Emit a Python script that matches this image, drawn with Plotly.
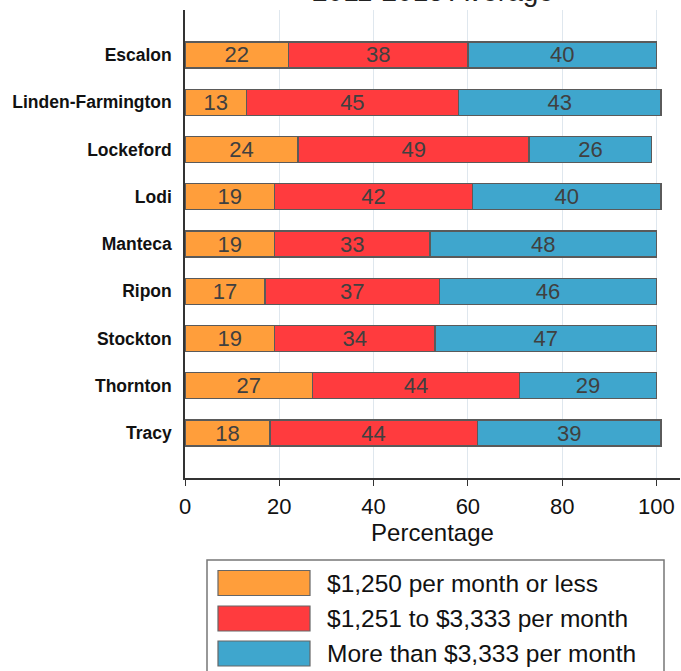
import plotly.graph_objects as go

categories = ["Escalon", "Linden-Farmington", "Lockeford", "Lodi", "Manteca",
              "Ripon", "Stockton", "Thornton", "Tracy"]
low = [22, 13, 24, 19, 19, 17, 19, 27, 18]
mid = [38, 45, 49, 42, 33, 37, 34, 44, 44]
high = [40, 43, 26, 40, 48, 46, 47, 29, 39]
series_names = ["$1,250 per month or less", "$1,251 to $3,333 per month",
                "More than $3,333 per month"]
colors = ["#FF9E3B", "#FF3B3E", "#3FA6CD"]
title_text = "2011-2015 Average"

W, H = 681, 671
# plot area in screen pixels
L, R, T, B = 185, 680, 10, 478

def px(x):
    return (x - L) / (R - L)

def py(y):
    return (B - y) / (B - T)

FONT = "Arial, Liberation Sans, sans-serif"

fig = go.Figure()
for vals, name, col in zip([low, mid, high], series_names, colors):
    fig.add_trace(go.Bar(
        y=categories, x=vals, name=name, orientation="h",
        marker=dict(color=col, line=dict(color="#5a5a5a", width=1.3)),
        text=[str(v) for v in vals], textposition="inside", textangle=0,
        insidetextanchor="middle", constraintext="none",
        textfont=dict(size=22, color="#404040", family=FONT),
        width=0.55, showlegend=False,
    ))

fig.update_layout(
    barmode="stack", width=W, height=H,
    margin=dict(l=L, r=W - R, t=T, b=H - B, autoexpand=False),
    plot_bgcolor="white", paper_bgcolor="white",
    font=dict(family=FONT, color="#111111"),
    xaxis=dict(range=[0, 105], tickvals=[0, 20, 40, 60, 80, 100],
               showgrid=True, gridcolor="#dfe7ee", gridwidth=1.2,
               showline=True, linecolor="#333333", linewidth=1.5,
               ticks="outside", ticklen=6, tickcolor="#333333",
               tickfont=dict(size=22), zeroline=False, ticklabelstandoff=2,
               title=dict(text="Percentage", font=dict(size=24), standoff=0)),
    yaxis=dict(categoryorder="array", categoryarray=categories,
               range=[8.95, -0.95], showgrid=False,
               showline=True, linecolor="#333333", linewidth=1.5,
               ticks="", ticklabelstandoff=8,
               tickfont=dict(size=17.5, color="#111111", weight="bold")),
)

# title (clipped at top as in the reference)
fig.add_annotation(text=title_text, xref="paper", yref="paper",
                   x=px(433), y=py(9), xanchor="center", yanchor="bottom",
                   showarrow=False, font=dict(size=28, color="#222222"))

# manual legend
fig.add_shape(type="rect", xref="paper", yref="paper",
              x0=px(207), x1=px(664), y0=py(560), y1=py(690),
              line=dict(color="#777777", width=1.5), fillcolor="white")
rows = [583, 618.5, 653.5]
for name, col, yc in zip(series_names, colors, rows):
    fig.add_shape(type="rect", xref="paper", yref="paper",
                  x0=px(218), x1=px(310), y0=py(yc - 12.5), y1=py(yc + 12.5),
                  line=dict(color="#666666", width=1.2), fillcolor=col)
    fig.add_annotation(text=name, xref="paper", yref="paper",
                       x=px(325), y=py(yc), xanchor="left", yanchor="middle",
                       showarrow=False, font=dict(size=24.5, color="#111111"))

fig.write_html("out.html", config={"displayModeBar": False},
               post_script="document.body.style.margin='0px';")
